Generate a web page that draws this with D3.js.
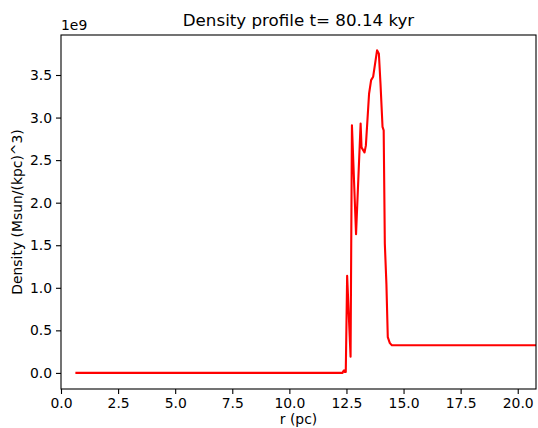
<!DOCTYPE html>
<html>
<head>
<meta charset="utf-8">
<script src="https://cdn.jsdelivr.net/npm/d3@7"></script>
<style>
  body { margin: 0; background: #fff; }
  text { font-family: "DejaVu Sans", sans-serif; fill: #000; }
</style>
</head>
<body>
<div id="chart"></div>
<script>
const width = 538;
const height = 428;

// radius (pc) and density (units of 1e9 Msun/kpc^3)
const radius = [0.63, 12.33, 12.36, 12.40, 12.43, 12.47, 12.53, 12.68, 12.74, 12.92, 13.12, 13.16, 13.29,
  13.35, 13.49, 13.58, 13.67, 13.84, 13.92, 13.99, 14.08, 14.13, 14.18, 14.25, 14.31, 14.40, 14.49, 20.8];
const density = [0, 0, 0.02, 0.03, 0.01, 0.01, 1.14, 0.19, 2.91, 1.63, 2.93, 2.65, 2.59,
  2.67, 3.28, 3.44, 3.48, 3.79, 3.75, 3.40, 2.89, 2.85, 1.52, 1.04, 0.42, 0.35, 0.325, 0.325];

const xTicks = [0, 2.5, 5, 7.5, 10, 12.5, 15, 17.5, 20];
const yTicks = [0, 0.5, 1, 1.5, 2, 2.5, 3, 3.5];

const margin = {top: 35, right: 2, bottom: 39, left: 61};

const svg = d3.select("#chart")
  .append("svg")
  .attr("width", width)
  .attr("height", height);

const x = d3.scaleLinear()
  .domain([0, 20.8])
  .range([margin.left, width - margin.right]);

const y = d3.scaleLinear()
  .domain([-0.189, 3.97])
  .range([height - margin.bottom, margin.top]);

// x axis
const xAxis = svg.append("g")
  .attr("transform", `translate(0,${height - margin.bottom})`)
  .call(d3.axisBottom(x).tickValues(xTicks).tickFormat(d3.format(".1f")).tickSizeOuter(0).tickSize(5).tickPadding(4));

// y axis
const yAxis = svg.append("g")
  .attr("transform", `translate(${margin.left},0)`)
  .call(d3.axisLeft(y).tickValues(yTicks).tickFormat(d3.format(".1f")).tickSizeOuter(0).tickSize(5).tickPadding(4));

[xAxis, yAxis].forEach(g => {
  g.select(".domain").remove();
  g.selectAll(".tick line").attr("stroke", "#000").attr("stroke-width", 1.1);
  g.selectAll(".tick text").style("font-size", "13.9px").attr("fill", "#000");
});

// data line
const line = d3.line()
  .x((d, i) => x(radius[i]))
  .y(d => y(d));

svg.append("path")
  .datum(density)
  .attr("fill", "none")
  .attr("stroke", "red")
  .attr("stroke-width", 2.1)
  .attr("stroke-linejoin", "round")
  .attr("d", line);

// frame
svg.append("rect")
  .attr("x", margin.left)
  .attr("y", margin.top)
  .attr("width", width - margin.right - margin.left)
  .attr("height", height - margin.bottom - margin.top)
  .attr("fill", "none")
  .attr("stroke", "#000")
  .attr("stroke-width", 1.1);

// offset text
svg.append("text")
  .attr("x", margin.left)
  .attr("y", margin.top - 5)
  .style("font-size", "13.9px")
  .text("1e9");

// title
svg.append("text")
  .attr("x", (margin.left + width - margin.right) / 2)
  .attr("y", 26)
  .attr("text-anchor", "middle")
  .style("font-size", "16.7px")
  .text("Density profile t= 80.14 kyr");

// axis labels
svg.append("text")
  .attr("x", (margin.left + width - margin.right) / 2)
  .attr("y", 424)
  .attr("text-anchor", "middle")
  .style("font-size", "13.9px")
  .text("r (pc)");

svg.append("text")
  .attr("transform", `translate(22,${(margin.top + height - margin.bottom) / 2}) rotate(-90)`)
  .attr("text-anchor", "middle")
  .style("font-size", "13.9px")
  .text("Density (Msun/(kpc)^3)");
</script>
</body>
</html>
